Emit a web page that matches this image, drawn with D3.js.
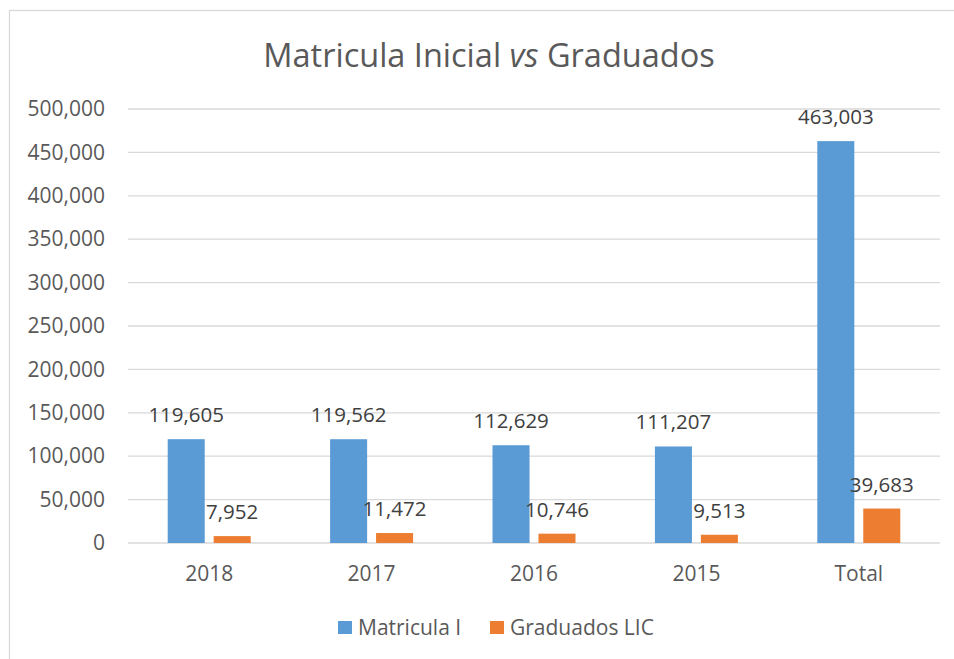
<!DOCTYPE html>
<html>
<head>
<meta charset="utf-8">
<script src="https://cdn.jsdelivr.net/npm/d3@7"></script>
<style>
  body { margin: 0; background: #fff; }
  svg { display: block; font-family: "Open Sans", sans-serif; }
</style>
</head>
<body>
<script>
// data
var categories = ["2018", "2017", "2016", "2015", "Total"];
var matricula = [119605, 119562, 112629, 111207, 463003];
var graduados = [7952, 11472, 10746, 9513, 39683];
var seriesNames = ["Matricula I", "Graduados LIC"];
var colors = ["#5B9BD5", "#ED7D31"];
var yTicks = [0, 50000, 100000, 150000, 200000, 250000, 300000, 350000, 400000, 450000, 500000];

var W = 954, H = 659;
var margin = {top: 109, right: 14, bottom: 116, left: 128},
    width = W - margin.left - margin.right,
    height = H - margin.top - margin.bottom;

var svg = d3.select("body").append("svg")
    .attr("width", W)
    .attr("height", H);

// outer chart border
svg.append("rect")
    .attr("x", 9.5).attr("y", 10.5)
    .attr("width", W + 20).attr("height", H + 20)
    .attr("fill", "none")
    .attr("stroke", "#d9d9d9")
    .attr("stroke-width", 1.3);

// title
var title = svg.append("text")
    .attr("x", 489)
    .attr("y", 67)
    .attr("text-anchor", "middle")
    .style("font-size", "32.5px")
    .style("fill", "#595959");
title.append("tspan").text("Matricula Inicial ");
title.append("tspan").style("font-style", "italic").text("vs");
title.append("tspan").text(" Graduados");

var g = svg.append("g")
    .attr("transform", "translate(" + margin.left + "," + margin.top + ")");

var x = d3.scaleBand().domain(categories).range([0, width]);
var y = d3.scaleLinear().domain([0, 500000]).range([height, 0]);

// gridlines
g.append("g")
  .selectAll("line")
  .data(yTicks)
  .enter().append("line")
    .attr("x1", 0).attr("x2", width)
    .attr("y1", function(d) { return y(d); })
    .attr("y2", function(d) { return y(d); })
    .attr("stroke", "#d9d9d9")
    .attr("stroke-width", 1.3);

// y axis labels
var yAxis = g.append("g")
    .call(d3.axisLeft(y).tickValues(yTicks).tickFormat(d3.format(",")).tickSize(0).tickPadding(23));
yAxis.select(".domain").remove();
yAxis.selectAll("text")
    .style("font-size", "21px")
    .style("font-family", "Open Sans, sans-serif")
    .style("fill", "#595959");

// x axis labels
var xAxis = g.append("g")
    .attr("transform", "translate(0," + height + ")")
    .call(d3.axisBottom(x).tickSize(0).tickPadding(23));
xAxis.select(".domain").remove();
xAxis.selectAll("text")
    .style("font-size", "21px")
    .style("font-family", "Open Sans, sans-serif")
    .style("fill", "#595959");

// bars
var bw = x.bandwidth() * 0.228;
var gap = x.bandwidth() * 0.055;
var series = [matricula, graduados];

series.forEach(function(vals, s) {
    var off = s === 0 ? -gap / 2 - bw : gap / 2;
    var data = categories.map(function(c, i) { return {cat: c, v: vals[i]}; });
    var sg = g.append("g");
    sg.selectAll("rect")
      .data(data)
      .enter().append("rect")
        .attr("x", function(d) { return x(d.cat) + x.bandwidth() / 2 + off; })
        .attr("y", function(d) { return y(d.v); })
        .attr("width", bw)
        .attr("height", function(d) { return height - y(d.v); })
        .attr("fill", colors[s]);
    sg.selectAll("text")
      .data(data)
      .enter().append("text")
        .attr("x", function(d) { return x(d.cat) + x.bandwidth() / 2 + off + bw / 2; })
        .attr("y", function(d) { return y(d.v) - 17; })
        .attr("text-anchor", "middle")
        .style("font-size", "20.5px")
        .style("fill", "#404040")
        .text(function(d) { return d3.format(",")(d.v); });
});

// legend
var legend = svg.append("g").attr("transform", "translate(338,621)");
var lx = [0, 152];
seriesNames.forEach(function(n, i) {
    legend.append("rect")
        .attr("x", lx[i]).attr("y", 0)
        .attr("width", 14).attr("height", 13)
        .attr("fill", colors[i]);
    legend.append("text")
        .attr("x", lx[i] + 20).attr("y", 14)
        .style("font-size", "21px")
        .style("fill", "#595959")
        .text(n);
});
</script>
</body>
</html>
